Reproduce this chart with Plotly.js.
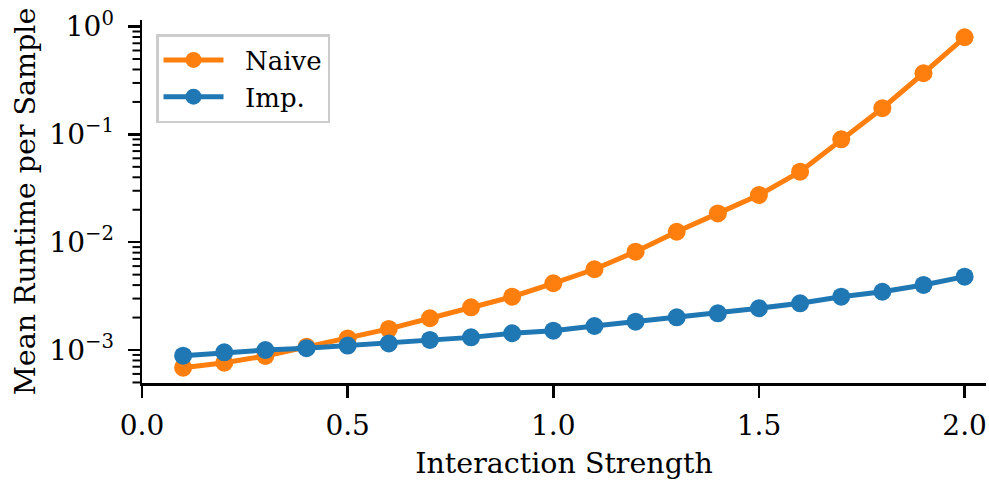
<!DOCTYPE html>
<html>
<head>
<meta charset="utf-8">
<script src="https://cdn.plot.ly/plotly-3.0.1.min.js"></script>
<style>html,body{margin:0;padding:0;background:#fff;}#chart{width:989px;height:485px;}</style>
</head>
<body>
<div id="chart"></div>
<script>
const strength = [0.1,0.2,0.3,0.4,0.5,0.6,0.7,0.8,0.9,1.0,1.1,1.2,1.3,1.4,1.5,1.6,1.7,1.8,1.9,2.0];
const naive = [6.85e-4,7.62e-4,8.80e-4,1.07e-3,1.28e-3,1.57e-3,1.97e-3,2.49e-3,3.12e-3,4.16e-3,5.61e-3,8.17e-3,1.25e-2,1.85e-2,2.74e-2,4.51e-2,9.0e-2,0.175,0.369,0.796];
const imp = [8.85e-4,9.52e-4,1.0e-3,1.04e-3,1.10e-3,1.15e-3,1.24e-3,1.31e-3,1.43e-3,1.51e-3,1.67e-3,1.83e-3,2.01e-3,2.19e-3,2.44e-3,2.71e-3,3.12e-3,3.47e-3,4.01e-3,4.79e-3];
const seriesNames = ['Naive', 'Imp.'];
const yTickVals = [1e-3,1e-2,1e-1,1];
const yTickText = ['10<sup>−3</sup>','10<sup>−2</sup>','10<sup>−1</sup>','10<sup>0</sup>'];
const xTickVals = [0,0.5,1.0,1.5,2.0];
const xTickText = ['0.0','0.5','1.0','1.5','2.0'];

const font = 'DejaVu Serif, serif';
const yRange = [-3.306, 0.061];
const plotW = 989 - 142 - 3;

// sub-decade (2..9) minor tick marks on the log y axis, placed via the axis range fraction
const tickShapes = [];
for (let e = -4; e <= 0; e++) {
  for (let d = 2; d <= 9; d++) {
    const lg = Math.log10(d * Math.pow(10, e));
    if (lg < yRange[0] || lg > yRange[1]) continue;
    const fy = (lg - yRange[0]) / (yRange[1] - yRange[0]);
    tickShapes.push({type: 'line', xref: 'paper', yref: 'paper', x0: -9.5 / plotW, x1: -1 / plotW, y0: fy, y1: fy,
      line: {color: '#000', width: 2}, layer: 'above'});
  }
}

const traces = [
  {x: strength, y: naive, name: '&nbsp;&nbsp;' + seriesNames[0], mode: 'lines+markers', line: {color: '#ff7f0e', width: 5}, marker: {color: '#ff7f0e', size: 18}},
  {x: strength, y: imp, name: '&nbsp;&nbsp;' + seriesNames[1], mode: 'lines+markers', line: {color: '#1f77b4', width: 5}, marker: {color: '#1f77b4', size: 18}}
];
const layout = {
  width: 989, height: 485,
  margin: {l: 142, r: 3, t: 20, b: 102},
  paper_bgcolor: '#fff', plot_bgcolor: '#fff',
  font: {family: font, color: '#000', size: 26},
  showlegend: true,
  legend: {x: 0.0166, y: 0.9614, xanchor: 'left', yanchor: 'top', bgcolor: 'rgba(255,255,255,0.8)', bordercolor: '#cccccc', borderwidth: 2.5, font: {family: font, size: 26}, itemwidth: 60, tracegroupgap: 4, traceorder: 'normal'},
  xaxis: {
    range: [0, 2.052], tickmode: 'array', tickvals: xTickVals, ticktext: xTickText,
    showgrid: false, zeroline: false, showline: true, linecolor: '#000', linewidth: 2.5,
    ticks: 'outside', ticklen: 12, tickwidth: 2.5, tickcolor: '#000', ticklabelstandoff: 4,
    tickfont: {family: font, size: 28},
    title: {text: 'Interaction Strength', font: {family: font, size: 28.5}, standoff: 12}
  },
  yaxis: {
    type: 'log', range: yRange, autorange: false, tickmode: 'array', tickvals: yTickVals, ticktext: yTickText,
    showgrid: false, zeroline: false, showline: true, linecolor: '#000', linewidth: 2.5,
    ticks: 'outside', ticklen: 12, tickwidth: 2.5, tickcolor: '#000', ticklabelstandoff: 8,
    tickfont: {family: font, size: 28},
    title: {text: 'Mean Runtime per Sample', font: {family: font, size: 28.5}, standoff: 6}
  },
  shapes: tickShapes
};
Plotly.newPlot('chart', traces, layout, {staticPlot: true});
</script>
</body>
</html>
